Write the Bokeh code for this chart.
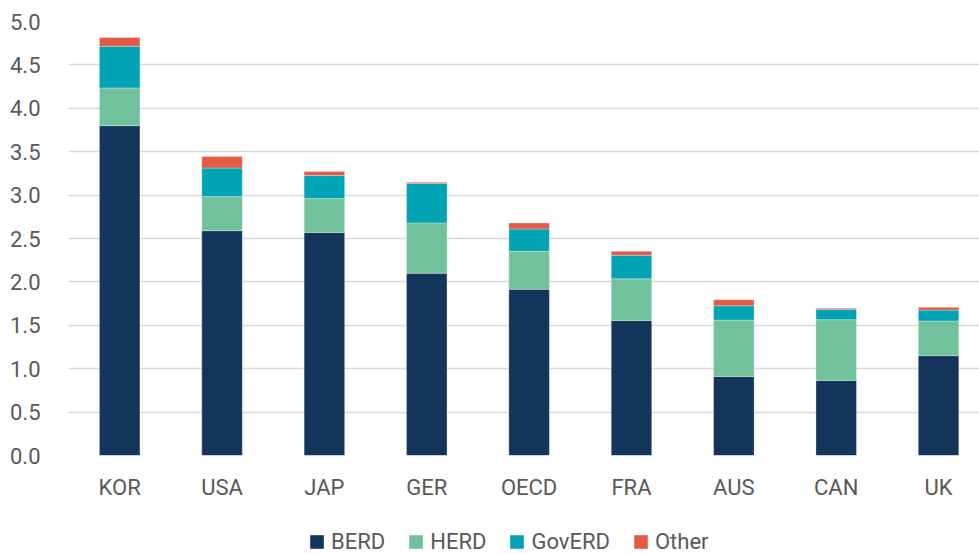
from bokeh.plotting import figure
from bokeh.layouts import column
from bokeh.models import Range1d, Legend, LegendItem, FixedTicker, CustomJSTickFormatter
from bokeh.embed import file_html
from bokeh.resources import INLINE

# Gross R&D expenditure by performing sector, % of GDP
countries = ["KOR", "USA", "JAP", "GER", "OECD", "FRA", "AUS", "CAN", "UK"]
berd   = [3.80, 2.59, 2.57, 2.10, 1.915, 1.555, 0.91, 0.865, 1.15]
herd   = [0.435, 0.395, 0.39, 0.58, 0.437, 0.48, 0.65, 0.70, 0.40]
goverd = [0.48, 0.327, 0.265, 0.455, 0.258, 0.272, 0.165, 0.12, 0.125]
other  = [0.10, 0.133, 0.046, 0.012, 0.07, 0.046, 0.069, 0.012, 0.034]

series = ["BERD", "HERD", "GovERD", "Other"]
colors = ["#13355B", "#71C29C", "#00A4B4", "#E35B45"]
y_ticks = [0.0, 0.5, 1.0, 1.5, 2.0, 2.5, 3.0, 3.5, 4.0, 4.5, 5.0]

FONT = "Roboto"
GREY = "#595959"
SIZE = "22px"

xs = list(range(len(countries)))
data = dict(x=xs, BERD=berd, HERD=herd, GovERD=goverd, Other=other)

# main chart: stacked bars
p = figure(width=979, height=506, output_backend="svg", toolbar_location=None,
           x_range=Range1d(-0.5, 8.40), y_range=Range1d(0, 5.0),
           min_border_left=68, min_border_right=0, min_border_top=21, min_border_bottom=51)
p.outline_line_color = None

p.vbar_stack(series, x="x", width=0.396, source=data, color=colors,
             line_color="white", line_width=0.6, line_alpha=0.5)

p.yaxis.ticker = FixedTicker(ticks=y_ticks)
p.yaxis.formatter = CustomJSTickFormatter(code="return tick.toFixed(1);")
p.yaxis.axis_line_color = None
p.yaxis.major_tick_line_color = None
p.yaxis.minor_tick_line_color = None
p.yaxis.major_label_standoff = 22
p.yaxis.major_label_text_font = FONT
p.yaxis.major_label_text_font_size = SIZE
p.yaxis.major_label_text_color = GREY

p.xaxis.ticker = FixedTicker(ticks=xs)
p.xaxis.major_label_overrides = {i: c for i, c in enumerate(countries)}
p.xaxis.axis_line_color = None
p.xaxis.major_tick_line_color = None
p.xaxis.minor_tick_line_color = None
p.xaxis.major_label_standoff = 13
p.xaxis.major_label_text_font = FONT
p.xaxis.major_label_text_font_size = SIZE
p.xaxis.major_label_text_color = GREY

p.xgrid.grid_line_color = None
p.ygrid.ticker = FixedTicker(ticks=y_ticks)
p.ygrid.grid_line_color = "#D9D9D9"
p.ygrid.grid_line_width = 1.5

# legend strip underneath; its bar renderers reuse the series but lie outside the strip's view,
# so only their legend swatches are shown
lg = figure(width=979, height=48, output_backend="svg", toolbar_location=None,
            x_range=Range1d(100, 101), y_range=Range1d(100, 101),
            min_border=0, outline_line_color=None)
lg.axis.visible = False
lg.grid.visible = False
swatches = lg.vbar_stack(series, x="x", width=0.396, source=data,
                         fill_color=colors, line_color=None)

legend = Legend(items=[LegendItem(label=s, renderers=[r]) for s, r in zip(series, swatches)],
                orientation="horizontal", location=(240, 0))
legend.border_line_color = None
legend.background_fill_alpha = 0
legend.label_text_font = FONT
legend.label_text_font_size = SIZE
legend.label_text_color = GREY
legend.glyph_width = 17
legend.glyph_height = 17
legend.label_standoff = 6
legend.spacing = 22
legend.padding = 0
legend.margin = 0
lg.add_layout(legend)

open("out.html", "w").write(file_html(column(p, lg, spacing=0), INLINE))
